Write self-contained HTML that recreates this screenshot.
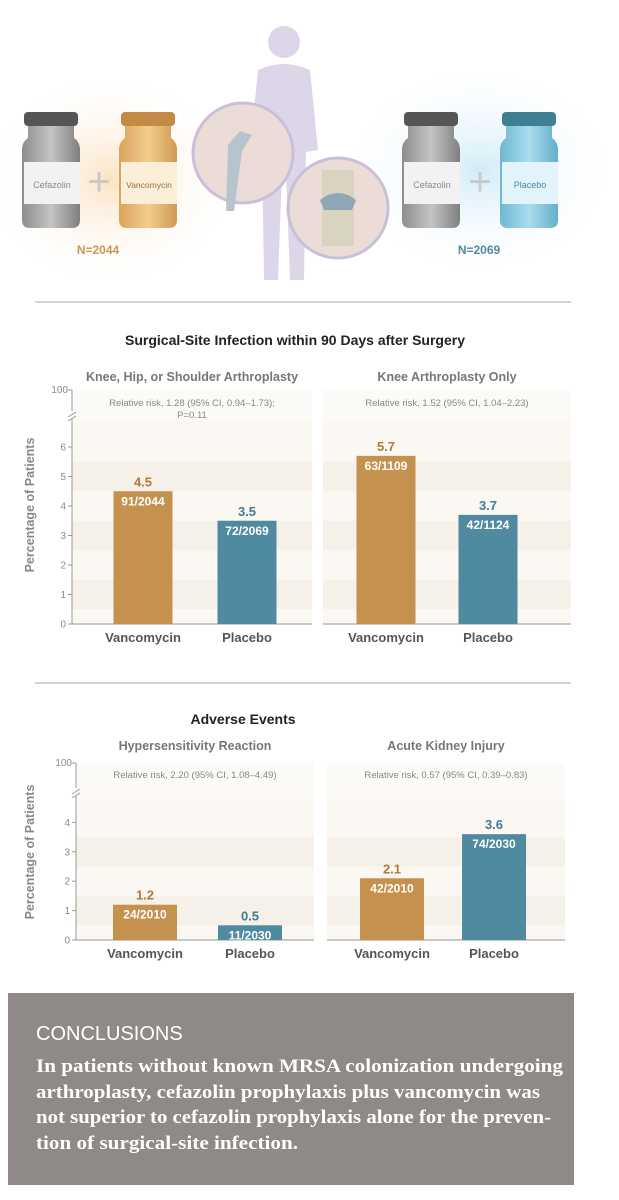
<!DOCTYPE html>
<html><head><meta charset="utf-8">
<style>
html,body{margin:0;padding:0;background:#fff;}
svg{display:block;}
text{font-family:"Liberation Sans",sans-serif;}
</style></head>
<body>
<svg id="root" width="619" height="1200" viewBox="0 0 619 1200" xmlns="http://www.w3.org/2000/svg">
<defs>
<radialGradient id="gOr" cx="0.5" cy="0.5" r="0.5"><stop offset="0" stop-color="#fbe3c2"/><stop offset="1" stop-color="#fff" stop-opacity="0"/></radialGradient>
<radialGradient id="gBl" cx="0.5" cy="0.5" r="0.5"><stop offset="0" stop-color="#d2ecf8"/><stop offset="1" stop-color="#fff" stop-opacity="0"/></radialGradient>
<linearGradient id="gGray" x1="0" x2="1"><stop offset="0" stop-color="#8d8d8d"/><stop offset="0.5" stop-color="#c4c4c4"/><stop offset="1" stop-color="#7f7f7f"/></linearGradient>
<linearGradient id="gVan" x1="0" x2="1"><stop offset="0" stop-color="#d9a45c"/><stop offset="0.5" stop-color="#f4cc8c"/><stop offset="1" stop-color="#cf9a52"/></linearGradient>
<linearGradient id="gPl" x1="0" x2="1"><stop offset="0" stop-color="#6fb8d2"/><stop offset="0.5" stop-color="#a8dcee"/><stop offset="1" stop-color="#64aecb"/></linearGradient>
</defs>

<g>
<ellipse cx="110" cy="180" rx="130" ry="110" fill="url(#gOr)"/>
<ellipse cx="480" cy="170" rx="140" ry="110" fill="url(#gBl)"/>
<g fill="#ddd6e8">
<circle cx="284" cy="42" r="16"/>
<path d="M258 70 Q284 58 310 70 L318 150 L306 152 L304 280 L290 280 L286 170 L282 170 L278 280 L264 280 L262 152 L250 150 Z"/>
</g>
<g>
<rect x="24" y="112" width="54" height="14" rx="4" fill="#555"/>
<path d="M28 126 h46 v12 q6 4 6 12 v70 q0 8 -8 8 h-42 q-8 0 -8 -8 v-70 q0 -8 6 -12z" fill="url(#gGray)"/>
<rect x="24" y="162" width="56" height="42" fill="#f2f2f2"/>
<text x="52" y="188" font-size="9" fill="#888" text-anchor="middle">Cefazolin</text>
</g>
<text x="99" y="195" font-size="40" fill="#c8c8c8" text-anchor="middle">+</text>
<g>
<rect x="121" y="112" width="54" height="14" rx="4" fill="#c28a45"/>
<path d="M125 126 h46 v12 q6 4 6 12 v70 q0 8 -8 8 h-42 q-8 0 -8 -8 v-70 q0 -8 6 -12z" fill="url(#gVan)"/>
<rect x="121" y="162" width="56" height="42" fill="#fbefd9"/>
<text x="149" y="188" font-size="8.5" fill="#9a7040" text-anchor="middle">Vancomycin</text>
</g>
<circle cx="243" cy="153" r="50" fill="#ecdcd8" stroke="#c8c0d8" stroke-width="3"/>
<path d="M228 145 l12 -14 l12 4 l-10 16 l-8 60 l-8 0z" fill="#b8c4cc"/>
<circle cx="338" cy="208" r="50" fill="#ecdcd8" stroke="#c8c0d8" stroke-width="3"/>
<rect x="322" y="170" width="32" height="76" fill="#d8d4c0"/>
<path d="M320 200 q18 -14 36 0 l-4 10 h-28z" fill="#8fa6b6"/>
<g>
<rect x="404" y="112" width="54" height="14" rx="4" fill="#555"/>
<path d="M408 126 h46 v12 q6 4 6 12 v70 q0 8 -8 8 h-42 q-8 0 -8 -8 v-70 q0 -8 6 -12z" fill="url(#gGray)"/>
<rect x="404" y="162" width="56" height="42" fill="#f2f2f2"/>
<text x="432" y="188" font-size="9" fill="#888" text-anchor="middle">Cefazolin</text>
</g>
<text x="480" y="195" font-size="40" fill="#c8c8c8" text-anchor="middle">+</text>
<g>
<rect x="502" y="112" width="54" height="14" rx="4" fill="#3f7f94"/>
<path d="M506 126 h46 v12 q6 4 6 12 v70 q0 8 -8 8 h-42 q-8 0 -8 -8 v-70 q0 -8 6 -12z" fill="url(#gPl)"/>
<rect x="502" y="162" width="56" height="42" fill="#e2f3fa"/>
<text x="530" y="188" font-size="9" fill="#4c8aa0" text-anchor="middle">Placebo</text>
</g>
<text x="98" y="254" font-size="12" font-weight="bold" fill="#c8955a" text-anchor="middle">N=2044</text>
<text x="479" y="254" font-size="12" font-weight="bold" fill="#4f8aa0" text-anchor="middle">N=2069</text>
</g>

<line x1="35" y1="302" x2="571" y2="302" stroke="#bbb" stroke-width="1.2"/>
<line x1="35" y1="683" x2="571" y2="683" stroke="#bbb" stroke-width="1.2"/>

<text x="295" y="345" font-size="14" font-weight="bold" fill="#222" text-anchor="middle">Surgical-Site Infection within 90 Days after Surgery</text>
<text x="243" y="724" font-size="14" font-weight="bold" fill="#222" text-anchor="middle">Adverse Events</text>

<g id="charts"></g>

<g>
<rect x="8" y="993" width="566" height="192" fill="#8f8a87"/>
<text x="36" y="1040" font-size="20" fill="#fff">CONCLUSIONS</text>
<g font-weight="bold" font-size="19" fill="#fff">
<text x="36" y="1072" textLength="527" lengthAdjust="spacingAndGlyphs" style="font-family:'Liberation Serif',serif">In patients without known MRSA colonization undergoing</text>
<text x="36" y="1098" textLength="504" lengthAdjust="spacingAndGlyphs" style="font-family:'Liberation Serif',serif">arthroplasty, cefazolin prophylaxis plus vancomycin was</text>
<text x="36" y="1123" textLength="515" lengthAdjust="spacingAndGlyphs" style="font-family:'Liberation Serif',serif">not superior to cefazolin prophylaxis alone for the preven-</text>
<text x="36" y="1149" textLength="262" lengthAdjust="spacingAndGlyphs" style="font-family:'Liberation Serif',serif">tion of surgical-site infection.</text>
</g>
</g>
</svg>

<script>
const categories = ["Vancomycin", "Placebo"];
const ssiAllValues = [4.5, 3.5];
const ssiAllCounts = ["91/2044", "72/2069"];
const ssiKneeValues = [5.7, 3.7];
const ssiKneeCounts = ["63/1109", "42/1124"];
const hyperValues = [1.2, 0.5];
const hyperCounts = ["24/2010", "11/2030"];
const akiValues = [2.1, 3.6];
const akiCounts = ["42/2010", "74/2030"];
const ssiTicks = [0, 1, 2, 3, 4, 5, 6];
const aeTicks = [0, 1, 2, 3, 4];

const NS = "http://www.w3.org/2000/svg";
const root = document.getElementById("charts");
function mk(tag, attrs, parent, txt) {
  const e = document.createElementNS(NS, tag);
  for (const k in attrs) e.setAttribute(k, attrs[k]);
  if (txt !== undefined) e.textContent = txt;
  (parent || root).appendChild(e);
  return e;
}
const barColors = ["#c4914f", "#4f8aa0"];
const valColors = ["#b07a38", "#3e7d95"];

function panel(p) {
  const g = mk("g", {}, root);
  
  
  const y = v => p.base - v * p.unit;
  const bg = mk("rect", {x: p.x0, y: p.top, width: p.x1 - p.x0, height: p.base - p.top, fill: "#fbf8f3"}, g);
  
  
  p.ticks.forEach((t, i) => {
    if (i % 2 === 1) {
      const s = mk("rect", {x: p.x0, y: y(t + 0.5), width: p.x1 - p.x0, height: p.unit, fill: "#f6f1e8"}, g);
      
      
    }
  });
  mk("rect", {x: p.x0, y: p.top, width: p.x1 - p.x0, height: p.brk - p.top + 6, fill: "#fcfaf7"}, g);
  const bl = mk("line", {x1: p.x0, x2: p.x1, y1: p.base, y2: p.base, stroke: "#aaa", "stroke-width": 1.3}, g);
  
  
  const st = mk("text", {x: (p.x0 + p.x1) / 2, y: p.subY, "font-size": 12.5, fill: "#777", "font-weight": "bold", "text-anchor": "middle"}, g, p.subtitle);
  
  
  p.rr.forEach((line, i) => {
    const r = mk("text", {x: (p.x0 + p.x1) / 2, y: p.rrY + i * 12, "font-size": 9.5, fill: "#888", "text-anchor": "middle"}, g, line);
    
    
  });
  if (p.axis) {
    const ax = mk("g", {}, g);
    
    
    mk("line", {x1: p.x0, x2: p.x0, y1: p.base, y2: p.brk + 4, stroke: "#999", "stroke-width": 1}, ax);
    mk("line", {x1: p.x0, x2: p.x0, y1: p.brk - 4, y2: p.top, stroke: "#999", "stroke-width": 1}, ax);
    mk("line", {x1: p.x0 - 4, x2: p.x0 + 4, y1: p.brk + 2, y2: p.brk - 3, stroke: "#999"}, ax);
    mk("line", {x1: p.x0 - 4, x2: p.x0 + 4, y1: p.brk + 6, y2: p.brk + 1, stroke: "#999"}, ax);
    p.ticks.forEach(t => {
      mk("line", {x1: p.x0 - 4, x2: p.x0, y1: y(t), y2: y(t), stroke: "#999"}, ax);
      const tl = mk("text", {x: p.x0 - 6, y: y(t) + 3.5, "font-size": 10, fill: "#888", "text-anchor": "end"}, ax, String(t));
      
      
    });
    mk("line", {x1: p.x0 - 4, x2: p.x0, y1: p.top, y2: p.top, stroke: "#999"}, ax);
    mk("text", {x: p.x0 - 4, y: p.top + 3, "font-size": 10, fill: "#888", "text-anchor": "end"}, ax, "100");
    const yt = mk("text", {x: 0, y: 0, "font-size": 12.5, fill: "#888", "font-weight": "bold", "text-anchor": "middle", transform: `translate(34 ${p.labY}) rotate(-90)`}, ax, "Percentage of Patients");
    
    
  }
  categories.forEach((c, i) => {
    const cx = p.centers[i];
    const v = p.values[i];
    const b = mk("rect", {x: cx - p.bw / 2, y: y(v), width: p.bw, height: p.base - y(v), fill: barColors[i]}, g);
    
    
    const vl = mk("text", {x: cx, y: y(v) - 5, "font-size": 13, "font-weight": "bold", fill: valColors[i], "text-anchor": "middle"}, g, v.toFixed(1));
    
    
    const cl = mk("text", {x: cx, y: y(v) + 14, "font-size": 12, "font-weight": "bold", fill: "#fff", "text-anchor": "middle"}, g, p.counts[i]);
    
    
    const xl = mk("text", {x: cx, y: p.base + 18, "font-size": 13, "font-weight": "bold", fill: "#555", "text-anchor": "middle"}, g, c);
    
    
  });
}

panel({name: "panel-all-arthroplasty", x0: 72, x1: 312, top: 390, brk: 415, base: 624, unit: 29.5, ticks: ssiTicks, axis: true, labY: 505,
  centers: [143, 247], bw: 59, values: ssiAllValues, counts: ssiAllCounts,
  subtitle: "Knee, Hip, or Shoulder Arthroplasty", subY: 381, rr: ["Relative risk, 1.28 (95% CI, 0.94\u20131.73);", "P=0.11"], rrY: 406});
panel({name: "panel-knee-only", x0: 323, x1: 571, top: 390, brk: 415, base: 624, unit: 29.5, ticks: ssiTicks, axis: false,
  centers: [386, 488], bw: 59, values: ssiKneeValues, counts: ssiKneeCounts,
  subtitle: "Knee Arthroplasty Only", subY: 381, rr: ["Relative risk, 1.52 (95% CI, 1.04\u20132.23)"], rrY: 406});
panel({name: "panel-hypersensitivity", x0: 76, x1: 314, top: 763, brk: 792, base: 940, unit: 29.4, ticks: aeTicks, axis: true, labY: 852,
  centers: [145, 250], bw: 64, values: hyperValues, counts: hyperCounts,
  subtitle: "Hypersensitivity Reaction", subY: 750, rr: ["Relative risk, 2.20 (95% CI, 1.08\u20134.49)"], rrY: 778});
panel({name: "panel-kidney-injury", x0: 327, x1: 565, top: 763, brk: 792, base: 940, unit: 29.4, ticks: aeTicks, axis: false,
  centers: [392, 494], bw: 64, values: akiValues, counts: akiCounts,
  subtitle: "Acute Kidney Injury", subY: 750, rr: ["Relative risk, 0.57 (95% CI, 0.39\u20130.83)"], rrY: 778});
</script>
</body></html>
